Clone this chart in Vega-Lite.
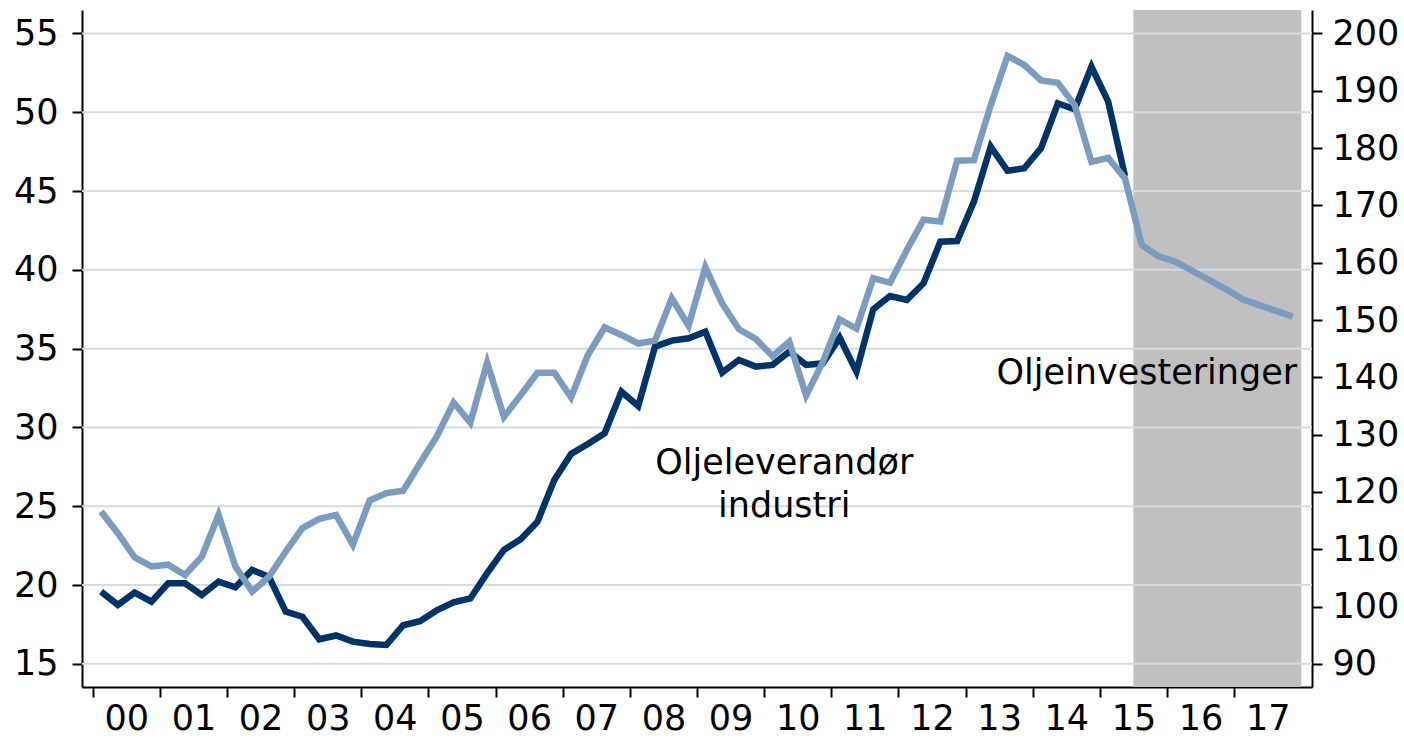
{
  "$schema": "https://vega.github.io/schema/vega-lite/v6.json",
  "autosize": "none",
  "padding": {"left": 82, "top": 10, "right": 92, "bottom": 54},
  "width": 1230,
  "height": 677,
  "background": "white",
  "config": {
    "view": {"stroke": null},
    "axis": {
      "domainColor": "black", "domainWidth": 2,
      "tickColor": "black", "tickWidth": 2, "tickSize": 10,
      "labelFont": "DejaVu Sans", "labelFontSize": 35, "labelColor": "black",
      "grid": false, "labelOverlap": false, "labelFlush": false
    },
    "text": {"font": "DejaVu Sans", "fontSize": 35, "color": "black"}
  },
  "datasets": {
    "leverandor": [
      {"t":2000.125,"v":19.58},{"t":2000.375,"v":18.74},{"t":2000.625,"v":19.52},{"t":2000.875,"v":18.95},
      {"t":2001.125,"v":20.11},{"t":2001.375,"v":20.11},{"t":2001.625,"v":19.37},{"t":2001.875,"v":20.22},
      {"t":2002.125,"v":19.86},{"t":2002.375,"v":20.96},{"t":2002.625,"v":20.53},{"t":2002.875,"v":18.31},
      {"t":2003.125,"v":17.99},{"t":2003.375,"v":16.56},{"t":2003.625,"v":16.8},{"t":2003.875,"v":16.41},
      {"t":2004.125,"v":16.26},{"t":2004.375,"v":16.2},{"t":2004.625,"v":17.45},{"t":2004.875,"v":17.7},
      {"t":2005.125,"v":18.4},{"t":2005.375,"v":18.9},{"t":2005.625,"v":19.15},{"t":2005.875,"v":20.75},
      {"t":2006.125,"v":22.23},{"t":2006.375,"v":22.91},{"t":2006.625,"v":24.02},{"t":2006.875,"v":26.67},
      {"t":2007.125,"v":28.32},{"t":2007.375,"v":28.95},{"t":2007.625,"v":29.63},{"t":2007.875,"v":32.27},
      {"t":2008.125,"v":31.36},{"t":2008.375,"v":35.13},{"t":2008.625,"v":35.51},{"t":2008.875,"v":35.66},
      {"t":2009.125,"v":36.08},{"t":2009.375,"v":33.48},{"t":2009.625,"v":34.28},{"t":2009.875,"v":33.86},
      {"t":2010.125,"v":33.97},{"t":2010.375,"v":34.81},{"t":2010.625,"v":33.97},{"t":2010.875,"v":34.07},
      {"t":2011.125,"v":35.7},{"t":2011.375,"v":33.54},{"t":2011.625,"v":37.5},{"t":2011.875,"v":38.34},
      {"t":2012.125,"v":38.09},{"t":2012.375,"v":39.15},{"t":2012.625,"v":41.79},{"t":2012.875,"v":41.83},
      {"t":2013.125,"v":44.33},{"t":2013.375,"v":47.82},{"t":2013.625,"v":46.29},{"t":2013.875,"v":46.45},
      {"t":2014.125,"v":47.72},{"t":2014.375,"v":50.57},{"t":2014.625,"v":50.19},{"t":2014.875,"v":52.89},
      {"t":2015.125,"v":50.67},{"t":2015.375,"v":45.95}
    ],
    "investering": [
      {"t":2000.125,"v":116.6},{"t":2000.375,"v":112.8},{"t":2000.625,"v":108.6},{"t":2000.875,"v":107.0},
      {"t":2001.125,"v":107.3},{"t":2001.375,"v":105.5},{"t":2001.625,"v":108.7},{"t":2001.875,"v":116.0},
      {"t":2002.125,"v":107.0},{"t":2002.375,"v":102.6},{"t":2002.625,"v":105.2},{"t":2002.875,"v":109.6},
      {"t":2003.125,"v":113.7},{"t":2003.375,"v":115.3},{"t":2003.625,"v":116.0},{"t":2003.875,"v":110.8},
      {"t":2004.125,"v":118.5},{"t":2004.375,"v":119.8},{"t":2004.625,"v":120.2},{"t":2004.875,"v":125.0},
      {"t":2005.125,"v":129.7},{"t":2005.375,"v":135.6},{"t":2005.625,"v":132.1},{"t":2005.875,"v":142.6},
      {"t":2006.125,"v":133.1},{"t":2006.375,"v":136.9},{"t":2006.625,"v":140.8},{"t":2006.875,"v":140.8},
      {"t":2007.125,"v":136.5},{"t":2007.375,"v":143.9},{"t":2007.625,"v":148.7},{"t":2007.875,"v":147.4},
      {"t":2008.125,"v":145.9},{"t":2008.375,"v":146.4},{"t":2008.625,"v":153.8},{"t":2008.875,"v":149.0},
      {"t":2009.125,"v":159.2},{"t":2009.375,"v":152.9},{"t":2009.625,"v":148.4},{"t":2009.875,"v":146.7},
      {"t":2010.125,"v":143.7},{"t":2010.375,"v":146.2},{"t":2010.625,"v":136.8},{"t":2010.875,"v":142.7},
      {"t":2011.125,"v":150.1},{"t":2011.375,"v":148.5},{"t":2011.625,"v":157.3},{"t":2011.875,"v":156.5},
      {"t":2012.125,"v":162.2},{"t":2012.375,"v":167.5},{"t":2012.625,"v":167.2},{"t":2012.875,"v":177.8},
      {"t":2013.125,"v":177.9},{"t":2013.375,"v":187.5},{"t":2013.625,"v":196.1},{"t":2013.875,"v":194.5},
      {"t":2014.125,"v":191.8},{"t":2014.375,"v":191.4},{"t":2014.625,"v":187.5},{"t":2014.875,"v":177.6},
      {"t":2015.125,"v":178.3},{"t":2015.375,"v":174.7},{"t":2015.625,"v":163.1},{"t":2015.875,"v":161.1},
      {"t":2016.125,"v":160.2},{"t":2016.375,"v":158.6},{"t":2016.625,"v":157.0},{"t":2016.875,"v":155.4},
      {"t":2017.125,"v":153.6},{"t":2017.375,"v":152.6},{"t":2017.625,"v":151.6},{"t":2017.875,"v":150.6}
    ],
    "grid": [
      {"g":15},{"g":20},{"g":25},{"g":30},{"g":35},{"g":40},{"g":45},{"g":50},{"g":55}
    ]
  },
  "layer": [
    {
      "layer": [
        {
          "data": {"values": [{}]},
          "mark": {"type": "rect", "color": "#c0c0c0"},
          "encoding": {
            "x": {"datum": 2015.5, "type": "quantitative", "scale": {"domain": [1999.841, 2018.16], "nice": false, "zero": false}, "title": null},
            "x2": {"datum": 2018}
          }
        },
        {
          "data": {"name": "grid"},
          "mark": {"type": "rule", "color": "#d2dce5", "strokeWidth": 2},
          "encoding": {
            "y": {"field": "g", "type": "quantitative", "scale": {"domain": [13.53, 56.49], "nice": false, "zero": false}, "title": null}
          }
        },
        {
          "data": {"name": "leverandor"},
          "mark": {"type": "line", "color": "#003366", "strokeWidth": 6.5},
          "encoding": {
            "x": {"field": "t", "type": "quantitative", "scale": {"domain": [1999.841, 2018.16], "nice": false, "zero": false}, "title": null,
                  "axis": {"values": [2000,2001,2002,2003,2004,2005,2006,2007,2008,2009,2010,2011,2012,2013,2014,2015,2016,2017],
                           "format": "d", "labelExpr": "slice(datum.label, 2)", "labelOffset": 33.6, "labelPadding": 4, "labelAlign": "center", "title": null}},
            "y": {"field": "v", "type": "quantitative", "scale": {"domain": [13.53, 56.49], "nice": false, "zero": false}, "title": null,
                  "axis": {"orient": "left", "values": [15,20,25,30,35,40,45,50,55], "labelPadding": 14, "title": null}}
          }
        },
        {
          "data": {"values": [{}]},
          "mark": {"type": "text", "text": "Oljeleverandør", "align": "center", "baseline": "middle"},
          "encoding": {
            "x": {"datum": 2010.3, "type": "quantitative"},
            "y": {"datum": 27.75, "type": "quantitative"}
          }
        },
        {
          "data": {"values": [{}]},
          "mark": {"type": "text", "text": "industri", "align": "center", "baseline": "middle"},
          "encoding": {
            "x": {"datum": 2010.3, "type": "quantitative"},
            "y": {"datum": 25.02, "type": "quantitative"}
          }
        },
        {
          "data": {"values": [{}]},
          "mark": {"type": "text", "text": "Oljeinvesteringer", "align": "center", "baseline": "middle"},
          "encoding": {
            "x": {"datum": 2015.7, "type": "quantitative"},
            "y": {"datum": 33.46, "type": "quantitative"}
          }
        }
      ]
    },
    {
      "data": {"name": "investering"},
      "mark": {"type": "line", "color": "#7b9cbf", "strokeWidth": 6.5},
      "encoding": {
        "x": {"field": "t", "type": "quantitative", "scale": {"domain": [1999.841, 2018.16], "nice": false, "zero": false}, "title": null},
        "y": {"field": "v", "type": "quantitative", "scale": {"domain": [85.96, 204.1], "nice": false, "zero": false}, "title": null,
              "axis": {"orient": "right", "values": [90,100,110,120,130,140,150,160,170,180,190,200], "labelPadding": 10, "title": null}}
      }
    }
  ],
  "resolve": {"scale": {"y": "independent"}}
}
